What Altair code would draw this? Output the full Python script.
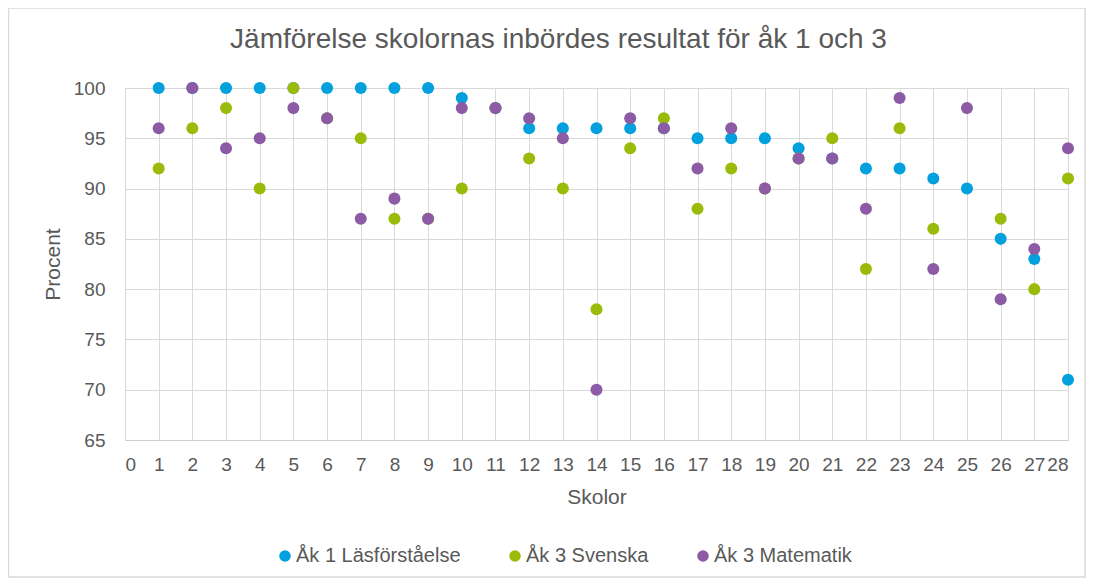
import altair as alt
import pandas as pd

schools = list(range(1, 29))
series_names = ["Åk 1 Läsförståelse", "Åk 3 Svenska", "Åk 3 Matematik"]
colors = ["#02a0dc", "#9bbb0b", "#8d5ba6"]

las = [100, 100, 100, 100, 100, 100, 100, 100, 100, 99, 98, 96, 96, 96,
       96, 96, 95, 95, 95, 94, 93, 92, 92, 91, 90, 85, 83, 71]
sve = [92, 96, 98, 90, 100, 97, 95, 87, 87, 90, 98, 93, 90, 78,
       94, 97, 88, 92, 90, 93, 95, 82, 96, 86, None, 87, 80, 91]
mat = [96, 100, 94, 95, 98, 97, 87, 89, 87, 98, 98, 97, 95, 70,
       97, 96, 92, 96, 90, 93, 93, 88, 99, 82, 98, 79, 84, 94]

rows = []
for i, (name, vals) in enumerate(zip(series_names, [las, sve, mat])):
    for s, v in zip(schools, vals):
        if v is not None:
            rows.append({"Skola": s, "Procent": v, "Serie": name, "ord": i})
df = pd.DataFrame(rows)

FONT = "Liberation Sans"
GRAY = "#595959"

points = alt.Chart(df).mark_circle(size=145, opacity=1).encode(
    x=alt.X("Skola:Q", title="Skolor",
            scale=alt.Scale(domain=[0, 28], nice=False, zero=False),
            axis=alt.Axis(values=list(range(0, 29)), ticks=False,
                          labelPadding=15, titlePadding=12, domain=True,
                          domainColor="#cfcfcf", gridColor="#d9d9d9",
                          labelFontSize=19, titleFontSize=21,
                          labelColor=GRAY, titleColor=GRAY,
                          labelFont=FONT, titleFont=FONT, titleFontWeight="normal")),
    y=alt.Y("Procent:Q", title="Procent",
            scale=alt.Scale(domain=[65, 100], nice=False, zero=False),
            axis=alt.Axis(values=[65, 70, 75, 80, 85, 90, 95, 100], ticks=False,
                          labelPadding=20, titlePadding=10, domain=False,
                          gridColor="#d9d9d9",
                          labelFontSize=19, titleFontSize=21,
                          labelColor=GRAY, titleColor=GRAY,
                          labelFont=FONT, titleFont=FONT, titleFontWeight="normal")),
    color=alt.Color("Serie:N", title=None,
                    scale=alt.Scale(domain=series_names, range=colors),
                    sort=series_names,
                    legend=alt.Legend(orient="none", legendX=150, legendY=458,
                                      direction="horizontal", symbolType="circle",
                                      symbolSize=135, labelFontSize=20,
                                      labelColor=GRAY, labelFont=FONT,
                                      labelLimit=400,
                                      columnPadding=44, labelOffset=1,
                                      symbolOpacity=1)),
    order=alt.Order("ord:Q"),
)

frame = alt.Chart(pd.DataFrame({"f": [0]})).mark_rect(
    fill=None, stroke="#d9d9d9", strokeWidth=1.5, clip=False
).encode(
    x=alt.value(-116.5), x2=alt.value(960), y=alt.value(-80), y2=alt.value(489)
)

chart = alt.layer(frame, points).properties(
    width=943, height=352,
    title=alt.TitleParams("Jämförelse skolornas inbördes resultat för åk 1 och 3",
                          fontSize=28, font=FONT, color=GRAY, fontWeight="normal",
                          anchor="middle", offset=-47, dx=-38),
    autosize=alt.AutoSizeParams(type="none"),
    padding={"left": 117, "top": 80, "right": 18, "bottom": 138},
).configure_view(stroke=None).configure(background="white")

chart.save("out.html", embed_options={"renderer": "svg", "actions": False})
